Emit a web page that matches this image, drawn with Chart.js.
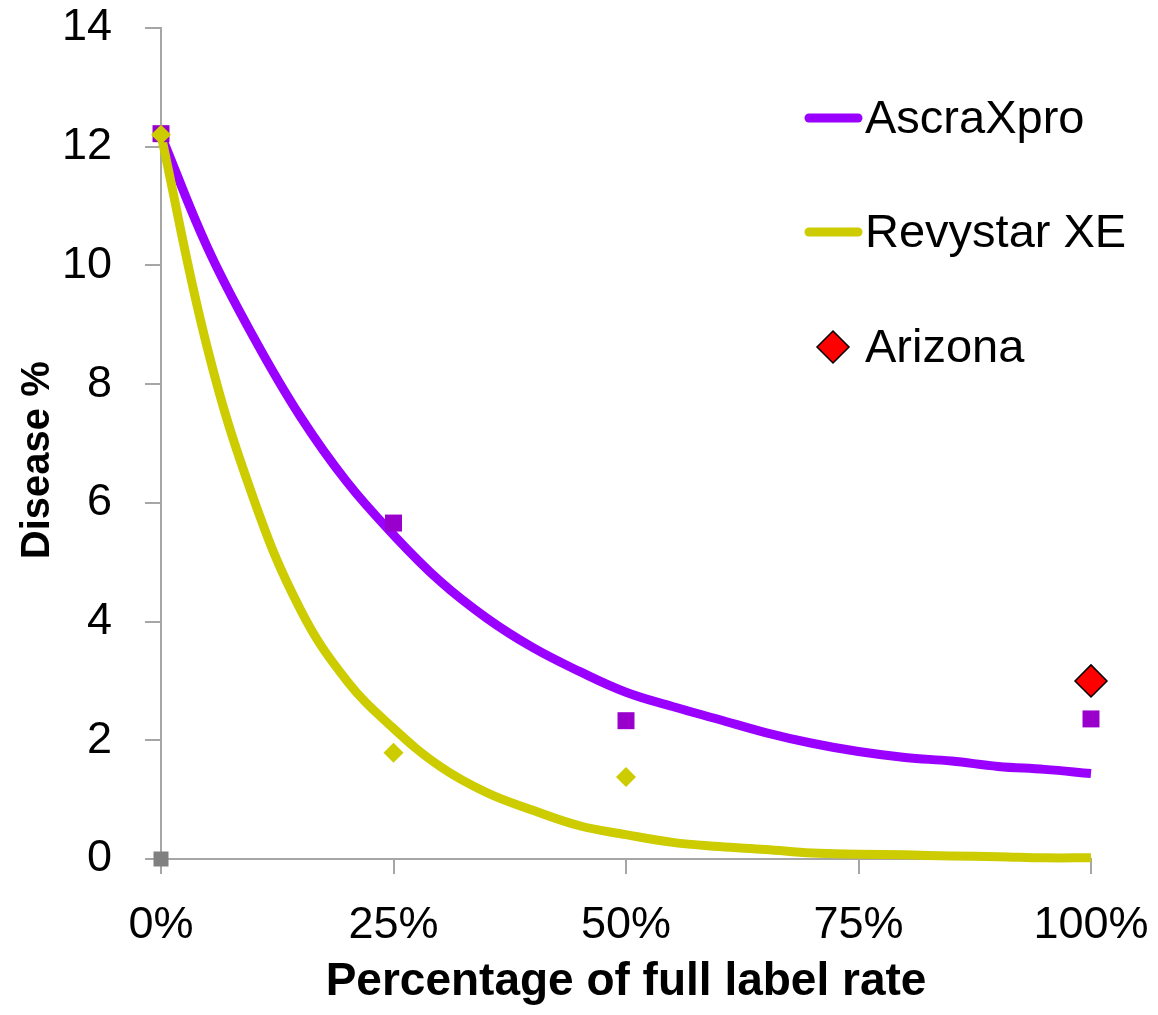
<!DOCTYPE html>
<html>
<head>
<meta charset="utf-8">
<title>Disease % vs label rate</title>
<script src="https://cdn.jsdelivr.net/npm/chart.js@4.4.1/dist/chart.umd.min.js"></script>
<style>
  html, body { margin: 0; padding: 0; background: #fff; }
  #wrap { position: relative; width: 1158px; height: 1015px; }
</style>
</head>
<body>
<div id="wrap"><canvas id="diseaseChart"></canvas></div>
<script>
// --- DATA ---
const rateTicks = [0, 0.25, 0.5, 0.75, 1];
const diseaseTicks = [0, 2, 4, 6, 8, 10, 12, 14];

// fitted curves, sampled every 5% of label rate
const fitRate = [0, 0.05, 0.1, 0.15, 0.2, 0.25, 0.3, 0.35, 0.4, 0.45, 0.5,
  0.55, 0.6, 0.65, 0.7, 0.75, 0.8, 0.85, 0.9, 0.95, 1];
const ascraFit = [12.2, 10.3, 8.78, 7.45, 6.35, 5.46, 4.68, 4.06, 3.56, 3.16, 2.81,
  2.57, 2.35, 2.13, 1.95, 1.81, 1.71, 1.65, 1.56, 1.51, 1.44];
const revyFit = [12.2, 8.6, 6.05, 4.2, 3.0, 2.2, 1.56, 1.12, 0.82, 0.56, 0.41,
  0.28, 0.21, 0.16, 0.1, 0.08, 0.07, 0.05, 0.04, 0.02, 0.02];

// observed points
const ascraRate = [0, 0.25, 0.5, 1];
const ascraObs = [12.22, 5.66, 2.33, 2.36];
const revyRate = [0, 0.25, 0.5];
const revyObs = [12.2, 1.79, 1.38];
const arizonaRate = [1];
const arizonaObs = [3.0];
const controlRate = [0];
const controlObs = [0];

const FONT = "'Liberation Sans', Arial, sans-serif";
const AXIS_GREY = "#a6a6a6";

const toXY = (xs, ys) => xs.map((x, i) => ({ x: x, y: ys[i] }));

// --- LEGEND (drawn top right, inside the plot) ---
const legendItems = [
  { label: "AscraXpro", kind: "line", color: "#9900ff", y: 118, base: 133 },
  { label: "Revystar XE", kind: "line", color: "#cccc00", y: 232, base: 247 },
  { label: "Arizona", kind: "diamond", color: "#ff0000", y: 347, base: 362 },
];

const legendPlugin = {
  id: "cornerLegend",
  afterDraw(chart) {
    const c = chart.ctx;
    c.save();
    legendItems.forEach((it) => {
      if (it.kind === "line") {
        c.strokeStyle = it.color;
        c.lineWidth = 9;
        c.lineCap = "round";
        c.beginPath();
        c.moveTo(809, it.y);
        c.lineTo(858, it.y);
        c.stroke();
      } else {
        c.fillStyle = it.color;
        c.strokeStyle = "#000";
        c.lineWidth = 1.5;
        c.beginPath();
        c.moveTo(833, it.y - 16);
        c.lineTo(849, it.y);
        c.lineTo(833, it.y + 16);
        c.lineTo(817, it.y);
        c.closePath();
        c.fill();
        c.stroke();
      }
      c.fillStyle = "#000";
      c.font = "47px " + FONT;
      c.textBaseline = "alphabetic";
      c.textAlign = "left";
      c.fillText(it.label, 865, it.base);
    });
    c.restore();
  },
};

// --- CHART ---
const ctx = document.getElementById("diseaseChart").getContext("2d");
const diseaseChart = new Chart(ctx, {
  type: "scatter",
  data: {
    datasets: [
      {
        label: "Arizona",
        data: toXY(arizonaRate, arizonaObs),
        pointStyle: "rectRot",
        pointRadius: 16,
        backgroundColor: "#ff0000",
        borderColor: "#000000",
        borderWidth: 1.5,
        clip: false,
        order: 1,
      },
      {
        label: "Revystar XE observed",
        data: toXY(revyRate, revyObs),
        pointStyle: "rectRot",
        pointRadius: 10,
        backgroundColor: "#cccc00",
        borderColor: "#cccc00",
        borderWidth: 0,
        clip: false,
        order: 2,
      },
      {
        label: "AscraXpro observed",
        data: toXY(ascraRate, ascraObs),
        pointStyle: "rect",
        pointRadius: 12,
        backgroundColor: "#9900cc",
        borderColor: "#9900cc",
        borderWidth: 0,
        clip: false,
        order: 3,
      },
      {
        label: "Untreated",
        data: toXY(controlRate, controlObs),
        pointStyle: "rect",
        pointRadius: 10.6,
        backgroundColor: "#808080",
        borderWidth: 0,
        clip: false,
        order: 4,
      },
      {
        label: "Revystar XE",
        data: toXY(fitRate, revyFit),
        showLine: true,
        borderColor: "#cccc00",
        borderWidth: 9,
        pointRadius: 0,
        tension: 0.4,
        clip: false,
        order: 5,
      },
      {
        label: "AscraXpro",
        data: toXY(fitRate, ascraFit),
        showLine: true,
        borderColor: "#9900ff",
        borderWidth: 9,
        pointRadius: 0,
        tension: 0.4,
        clip: false,
        order: 6,
      },
    ],
  },
  options: {
    responsive: true,
    maintainAspectRatio: false,
    animation: false,
    layout: { padding: { left: 0, right: 67, top: 28, bottom: 0 } },
    plugins: {
      legend: { display: false },
      tooltip: { enabled: false },
    },
    scales: {
      x: {
        type: "linear",
        min: 0,
        max: 1,
        afterBuildTicks: (s) => { s.ticks = rateTicks.map((v) => ({ value: v })); },
        afterFit: (s) => {
          s.height = 156;
          s.paddingLeft = 0;
          s.paddingRight = 0;
        },
        border: { display: true, color: AXIS_GREY, width: 2 },
        grid: { drawOnChartArea: false, drawTicks: true, tickLength: 15, color: AXIS_GREY, lineWidth: 2 },
        ticks: {
          padding: 25,
          color: "#000",
          maxRotation: 0,
          font: { family: FONT, size: 45 },
          callback: (v) => Math.round(v * 100) + "%",
        },
        title: {
          display: true,
          text: "Percentage of full label rate",
          color: "#000",
          font: { family: FONT, size: 46, weight: "bold" },
          padding: { top: 0, bottom: 5 },
        },
      },
      y: {
        min: 0,
        max: 14,
        afterBuildTicks: (s) => { s.ticks = diseaseTicks.map((v) => ({ value: v })); },
        afterFit: (s) => {
          s.width = 161;
          s.paddingTop = 0;
          s.paddingBottom = 0;
        },
        border: { display: true, color: AXIS_GREY, width: 2 },
        grid: { drawOnChartArea: false, drawTicks: true, tickLength: 16, color: AXIS_GREY, lineWidth: 2 },
        ticks: {
          padding: 33,
          color: "#000",
          font: { family: FONT, size: 45 },
        },
        title: {
          display: true,
          // trailing no-break spaces nudge the title a bit below centre, as in the original
          text: "Disease %\u00a0\u00a0\u00a0",
          color: "#000",
          font: { family: FONT, size: 40, weight: "bold" },
          padding: { top: 14, bottom: 0 },
        },
      },
    },
  },
  plugins: [legendPlugin],
});
</script>
</body>
</html>
